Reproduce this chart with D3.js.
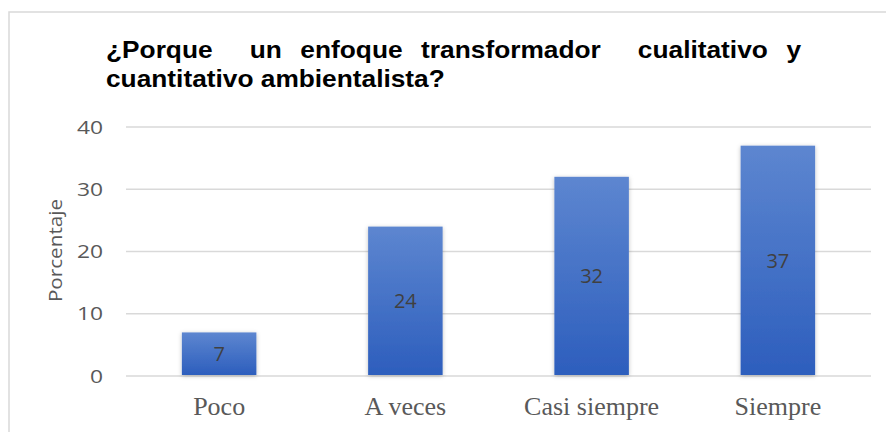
<!DOCTYPE html>
<html>
<head>
<meta charset="utf-8">
<script src="https://cdn.jsdelivr.net/npm/d3@7"></script>
<style>
  body { margin: 0; background: #fff; }
  svg { display: block; }
</style>
</head>
<body>
<div id="root"></div>
<script>
// data
const categories = ["Poco", "A veces", "Casi siempre", "Siempre"]
const values = [7, 24, 32, 37]
const yTicks = [0, 10, 20, 30, 40]
const titleLines = ["¿Porque  un enfoque transformador  cualitativo y", "cuantitativo ambientalista?"]
const yTitle = "Porcentaje"

const w = 886, h = 432

const svg = d3.select("#root").append("svg")
    .attr("width", w)
    .attr("height", h)

svg.append("rect").attr("width", w).attr("height", h).attr("fill", "white")

// chart frame (only top and left edges fall inside the picture)
svg.append("path")
    .attr("d", `M9,${h} L9,12 L${w},12`)
    .attr("fill", "none")
    .attr("stroke", "#d9d9d9")
    .attr("stroke-width", 1.5)

//scales
const x = d3.scaleBand()
    .domain(categories)
    .range([126, 871])
    .paddingInner(0.6)
    .paddingOuter(0.3)

const y = d3.scaleLinear()
    .domain([0, 40])
    .range([376, 127])

const defs = svg.append("defs")
const grad = defs.append("linearGradient")
    .attr("id", "barGrad")
    .attr("x1", 0).attr("y1", 0).attr("x2", 0).attr("y2", 1)
grad.append("stop").attr("offset", "0%").attr("stop-color", "#5d86d0")
grad.append("stop").attr("offset", "100%").attr("stop-color", "#2d5ebd")

const shadow = defs.append("filter").attr("id", "shadow")
    .attr("x", "-20%").attr("y", "-20%").attr("width", "140%").attr("height", "140%")
shadow.append("feDropShadow")
    .attr("dx", 0).attr("dy", 1).attr("stdDeviation", 2)
    .attr("flood-color", "#000").attr("flood-opacity", 0.25)

// gridlines
svg.append("g")
    .selectAll("line.grid")
    .data(yTicks)
    .enter()
    .append("line")
    .attr("class", "grid")
    .attr("x1", 126)
    .attr("x2", 871)
    .attr("y1", d => y(d))
    .attr("y2", d => y(d))
    .attr("stroke", "#d9d9d9")
    .attr("stroke-width", 1.5)

// y tick labels (text in the source is a bit wider than Open Sans)
svg.append("g")
    .selectAll("text.ytick")
    .data(yTicks)
    .enter()
    .append("text")
    .attr("class", "ytick")
    .attr("transform", d => `translate(103,${y(d)}) scale(1.2,1)`)
    .attr("dy", "0.35em")
    .attr("text-anchor", "end")
    .attr("font-family", "'Open Sans', sans-serif")
    .attr("font-size", 19)
    .attr("fill", "#595959")
    .text(d => d)

// y axis title
svg.append("text")
    .attr("transform", "translate(62,250.5) rotate(-90) scale(1.15,1)")
    .attr("text-anchor", "middle")
    .attr("font-family", "'Open Sans', sans-serif")
    .attr("font-size", 18)
    .attr("fill", "#595959")
    .text(yTitle)

// bars
svg.append("g")
    .selectAll("rect.bar")
    .data(values)
    .enter()
    .append("rect")
    .attr("class", "bar")
    .attr("x", (d, i) => x(categories[i]))
    .attr("y", d => y(d))
    .attr("width", x.bandwidth())
    .attr("height", d => y(0) - y(d) - 1)
    .attr("fill", "url(#barGrad)")
    .attr("filter", "url(#shadow)")

// value labels
svg.append("g")
    .selectAll("text.value")
    .data(values)
    .enter()
    .append("text")
    .attr("class", "value")
    .attr("x", (d, i) => x(categories[i]) + x.bandwidth() / 2)
    .attr("y", d => (y(d) + y(0)) / 2)
    .attr("dy", "0.35em")
    .attr("text-anchor", "middle")
    .attr("font-family", "'Open Sans', sans-serif")
    .attr("font-size", 20)
    .attr("fill", "#404040")
    .text(d => d)

// category labels
svg.append("g")
    .selectAll("text.cat")
    .data(categories)
    .enter()
    .append("text")
    .attr("class", "cat")
    .attr("x", d => x(d) + x.bandwidth() / 2)
    .attr("y", 415)
    .attr("text-anchor", "middle")
    .attr("font-family", "'Liberation Serif', 'Times New Roman', serif")
    .attr("font-size", 26)
    .attr("fill", "#595959")
    .text(d => d)

// title: second line sets the horizontal stretch, first line is justified
const titleLeft = 106, titleRight = 801, line2Right = 445
const titleG = svg.append("g")
const titleTexts = titleLines.map((line, i) => titleG.append("text")
    .attr("x", 0)
    .attr("y", 58 + i * 29)
    .attr("font-family", "'Liberation Sans', Arial, sans-serif")
    .attr("font-weight", "bold")
    .attr("font-size", 23)
    .attr("fill", "black")
    .style("white-space", "pre")
    .text(line))

const sx = (line2Right - titleLeft) / titleTexts[1].node().getComputedTextLength()
titleG.attr("transform", `translate(${titleLeft},0) scale(${sx},1)`)
const natural = titleTexts[0].node().getComputedTextLength()
const spaces = titleLines[0].split(" ").length - 1
titleTexts[0].attr("word-spacing", ((titleRight - titleLeft) / sx - natural) / spaces)
</script>
</body>
</html>
